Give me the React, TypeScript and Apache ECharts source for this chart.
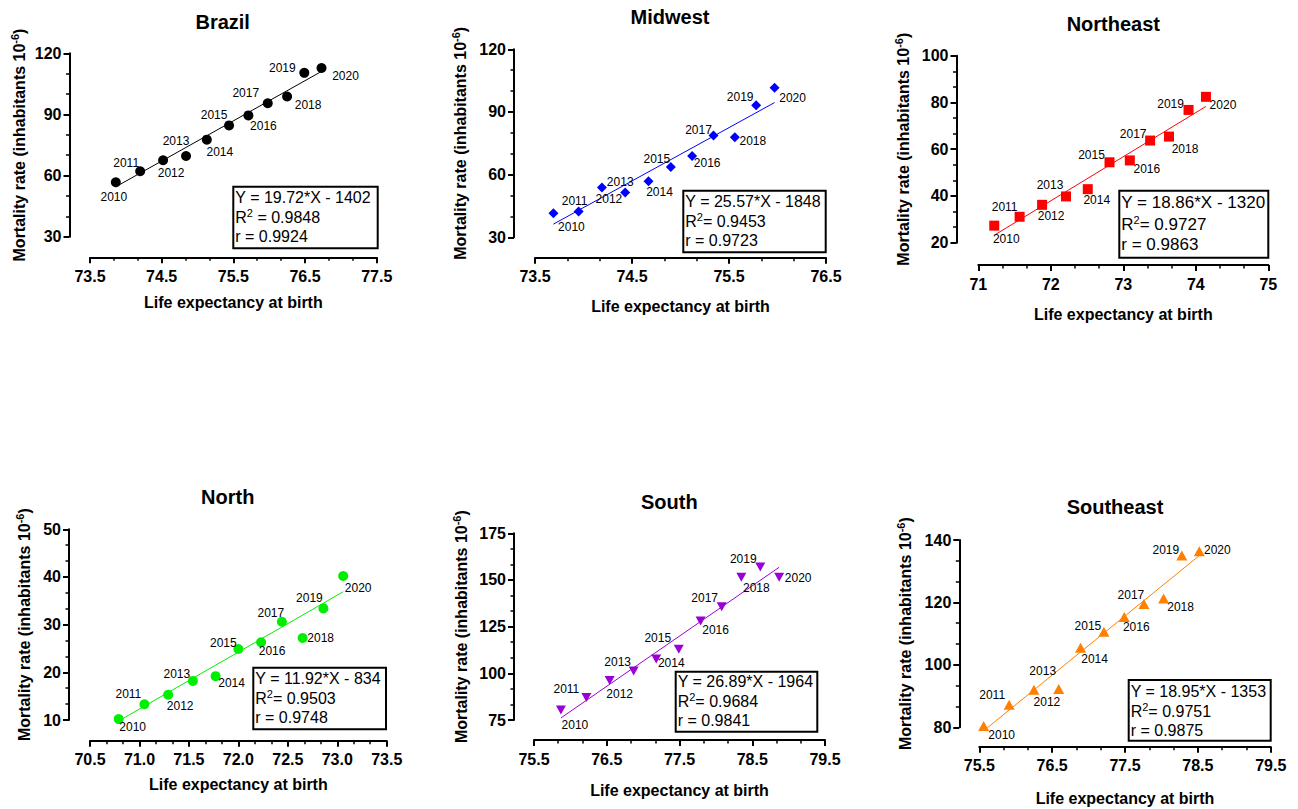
import React, { useEffect, useRef } from "react";
import * as echarts from "echarts";

const FONT = '"Liberation Sans", Arial, Helvetica, sans-serif';

// ---------------- data ----------------
const YEARS = [2010, 2011, 2012, 2013, 2014, 2015, 2016, 2017, 2018, 2019, 2020];

const BRAZIL_X = [73.86, 74.2, 74.52, 74.84, 75.13, 75.44, 75.71, 75.98, 76.25, 76.49, 76.73];
const BRAZIL_Y = [56.7, 62.1, 67.5, 69.6, 77.6, 84.6, 89.5, 95.5, 98.8, 110.4, 112.8];
const BRAZIL_FIT_X = [73.86, 76.73];
const BRAZIL_FIT_Y = [54.5, 111.1];
const BRAZIL_STATS = ["Y = 19.72*X - 1402", "R{sup|2} = 0.9848", "r = 0.9924"];
const BRAZIL_XTICKS = [73.5, 74.5, 75.5, 76.5, 77.5];

const MIDWEST_X = [73.69, 73.95, 74.19, 74.43, 74.67, 74.9, 75.12, 75.34, 75.56, 75.78, 75.97];
const MIDWEST_Y = [41.5, 42.4, 53.8, 51.4, 56.8, 63.7, 68.9, 78.7, 77.9, 93.2, 101.6];
const MIDWEST_FIT_X = [73.69, 75.97];
const MIDWEST_FIT_Y = [36.3, 94.5];
const MIDWEST_STATS = ["Y = 25.57*X - 1848", "R{sup|2}= 0.9453", "r = 0.9723"];
const MIDWEST_XTICKS = [73.5, 74.5, 75.5, 76.5];

const NORTHEAST_X = [71.22, 71.57, 71.88, 72.21, 72.51, 72.81, 73.09, 73.37, 73.63, 73.9, 74.14];
const NORTHEAST_Y = [27.3, 31.1, 36.2, 39.8, 42.9, 54.4, 55.2, 63.7, 65.4, 76.8, 82.4];
const NORTHEAST_FIT_X = [71.22, 74.14];
const NORTHEAST_FIT_Y = [23.2, 78.3];
const NORTHEAST_STATS = ["Y = 18.86*X - 1320", "R{sup|2}= 0.9727", "r = 0.9863"];
const NORTHEAST_XTICKS = [71, 72, 73, 74, 75];

const NORTH_X = [70.79, 71.05, 71.29, 71.54, 71.77, 72.0, 72.23, 72.44, 72.65, 72.86, 73.06];
const NORTH_Y = [10.2, 13.3, 15.3, 18.2, 19.2, 24.9, 26.3, 30.6, 27.2, 33.4, 40.2];
const NORTH_FIT_X = [70.79, 73.06];
const NORTH_FIT_Y = [9.8, 36.9];
const NORTH_STATS = ["Y = 11.92*X - 834", "R{sup|2}= 0.9503", "r = 0.9748"];
const NORTH_XTICKS = [70.5, 71.0, 71.5, 72.0, 72.5, 73.0, 73.5];

const SOUTH_X = [75.87, 76.22, 76.54, 76.87, 77.18, 77.49, 77.79, 78.08, 78.35, 78.61, 78.87];
const SOUTH_Y = [80.3, 87.1, 96.2, 101.3, 107.7, 112.9, 128.0, 135.7, 151.5, 156.9, 151.5];
const SOUTH_FIT_X = [75.87, 78.87];
const SOUTH_FIT_Y = [76.1, 156.8];
const SOUTH_STATS = ["Y = 26.89*X - 1964", "R{sup|2}= 0.9684", "r = 0.9841"];
const SOUTH_XTICKS = [75.5, 76.5, 77.5, 78.5, 79.5];

const SOUTHEAST_X = [75.56, 75.91, 76.25, 76.59, 76.89, 77.21, 77.49, 77.76, 78.03, 78.28, 78.52];
const SOUTHEAST_Y = [80.4, 87.2, 92.0, 92.3, 105.5, 110.6, 115.3, 119.5, 121.3, 135.0, 136.4];
const SOUTHEAST_FIT_X = [75.56, 78.52];
const SOUTHEAST_FIT_Y = [78.9, 135.0];
const SOUTHEAST_STATS = ["Y = 18.95*X - 1353", "R{sup|2}= 0.9751", "r = 0.9875"];
const SOUTHEAST_XTICKS = [75.5, 76.5, 77.5, 78.5, 79.5];

// ---------------- layout / style ----------------
const PANELS = [
  {
    title: "Brazil", xs: BRAZIL_X, ys: BRAZIL_Y, fx: BRAZIL_FIT_X, fy: BRAZIL_FIT_Y, stats: BRAZIL_STATS,
    xTicks: BRAZIL_XTICKS, xDec: 1, yMin: 30, yMax: 120, yInt: 30,
    color: "#000000", symbol: "circle", size: 10, rotate: 0,
    grid: { left: 90, top: 53.3, width: 286.7, height: 183.4 }, yOff: 20.5, xOff: 20.6, yGap: 40, xGap: 37,
    titlePos: [222.7, 21.7], box: [233.3, 186.7, 144.4, 61.6], lineY: [11, 31, 50], fs: 16,
    labelOff: [[-2, 15], [-14, -8], [8, 13], [-10, -15], [13, 12], [-15, -10], [15, 11], [-22, -10], [21, 8], [-22, -5], [24, 8]],
  },
  {
    title: "Midwest", xs: MIDWEST_X, ys: MIDWEST_Y, fx: MIDWEST_FIT_X, fy: MIDWEST_FIT_Y, stats: MIDWEST_STATS,
    xTicks: MIDWEST_XTICKS, xDec: 1, yMin: 30, yMax: 120, yInt: 30,
    color: "#0000ff", symbol: "diamond", size: 10, rotate: 0,
    grid: { left: 535, top: 49.3, width: 291, height: 188 }, yOff: 21, xOff: 20.4, yGap: 44, xGap: 41,
    titlePos: [670, 17.3], box: [683.3, 190.7, 142.4, 61.6], lineY: [11, 31, 50], fs: 16,
    labelOff: [[18, 14], [-4, -10], [7, 11], [-5, -11], [11, 11], [-14, -8], [15, 7], [-15, -6], [18, 4], [-16, -8], [18, 10]],
  },
  {
    title: "Northeast", xs: NORTHEAST_X, ys: NORTHEAST_Y, fx: NORTHEAST_FIT_X, fy: NORTHEAST_FIT_Y, stats: NORTHEAST_STATS,
    xTicks: NORTHEAST_XTICKS, xDec: 0, yMin: 20, yMax: 100, yInt: 20,
    color: "#ff0000", symbol: "rect", size: 10, rotate: 0,
    grid: { left: 978.3, top: 55.7, width: 290, height: 187 }, yOff: 21.8, xOff: 22.3, yGap: 43.5, xGap: 41,
    titlePos: [1113.3, 24], box: [1119.3, 190.7, 149, 67], lineY: [12, 34, 54], fs: 17,
    labelOff: [[12, 13], [-15, -10], [9, 11], [-16, -11], [9, 11], [-18, -7], [17, 9], [-17, -7], [16, 12], [-18, -6], [17, 8]],
  },
  {
    title: "North", xs: NORTH_X, ys: NORTH_Y, fx: NORTH_FIT_X, fy: NORTH_FIT_Y, stats: NORTH_STATS,
    xTicks: NORTH_XTICKS, xDec: 1, yMin: 10, yMax: 50, yInt: 10,
    color: "#00ee00", symbol: "circle", size: 10, rotate: 0,
    grid: { left: 90, top: 529.3, width: 296.7, height: 190.7 }, yOff: 21, xOff: 20.7, yGap: 35, xGap: 36,
    titlePos: [227.7, 496.7], box: [253.3, 667.7, 132.7, 61.6], lineY: [11, 31, 50], fs: 16,
    labelOff: [[14, 8], [-16, -10], [12, 11], [-16, -7], [16, 7], [-15, -6], [11, 9], [-11, -9], [18, 0], [-14, -10], [15, 12]],
  },
  {
    title: "South", xs: SOUTH_X, ys: SOUTH_Y, fx: SOUTH_FIT_X, fy: SOUTH_FIT_Y, stats: SOUTH_STATS,
    xTicks: SOUTH_XTICKS, xDec: 1, yMin: 75, yMax: 175, yInt: 25,
    color: "#9a00d6", symbol: "triangle", size: [10, 9], rotate: 180,
    grid: { left: 534, top: 533.3, width: 291, height: 186.7 }, yOff: 20, xOff: 20, yGap: 43, xGap: 42.5,
    titlePos: [669.3, 501.7], box: [675.7, 671.7, 141.6, 60], lineY: [10, 30, 49], fs: 16,
    labelOff: [[14, 15], [-20, -8], [10, 14], [-16, -9], [15, 4], [-21, -11], [15, 9], [-17, -9], [15, 11], [-17, -8], [19, 1]],
  },
  {
    title: "Southeast", xs: SOUTHEAST_X, ys: SOUTHEAST_Y, fx: SOUTHEAST_FIT_X, fy: SOUTHEAST_FIT_Y, stats: SOUTHEAST_STATS,
    xTicks: SOUTHEAST_XTICKS, xDec: 1, yMin: 80, yMax: 140, yInt: 20,
    color: "#ff8000", symbol: "triangle", size: [11, 10], rotate: 0,
    grid: { left: 979.3, top: 540, width: 291.4, height: 187.3 }, yOff: 20, xOff: 19.4, yGap: 44, xGap: 43.5,
    titlePos: [1115, 507.3], box: [1128.7, 680, 142, 60.7], lineY: [11, 31, 50], fs: 16,
    labelOff: [[18, 9], [-17, -10], [13, 12], [-16, -18], [14, 11], [-16, -6], [12, 10], [-13, -9], [17, 9], [-16, -6], [18, -1]],
  },
];

function thirds(majors: number[]): number[] {
  const out: number[] = [];
  for (let i = 0; i < majors.length - 1; i++) {
    const a = majors[i];
    const b = majors[i + 1];
    out.push(a + (b - a) / 3, a + (2 * (b - a)) / 3);
  }
  return out;
}

function buildOption() {
  const grid: any[] = [];
  const xAxis: any[] = [];
  const yAxis: any[] = [];
  const series: any[] = [];
  const graphic: any[] = [];

  PANELS.forEach((p, i) => {
    grid.push({ ...p.grid, containLabel: false });
    const xMin = p.xTicks[0];
    const xMax = p.xTicks[p.xTicks.length - 1];
    const xMainIndex = xAxis.length;
    xAxis.push({
      gridIndex: i,
      type: "value",
      min: xMin,
      max: xMax,
      position: "bottom",
      offset: p.xOff,
      axisLine: { show: true, onZero: false, lineStyle: { color: "#000", width: 2 } },
      axisTick: { show: true, length: 6, customValues: p.xTicks, lineStyle: { color: "#000", width: 2 } },
      axisLabel: {
        show: true,
        customValues: p.xTicks,
        formatter: (v: number) => Number(v).toFixed(p.xDec),
        color: "#000",
        fontSize: 16,
        fontWeight: "bold",
        fontFamily: FONT,
        margin: 11,
      },
      splitLine: { show: false },
      name: "Life expectancy at birth",
      nameLocation: "middle",
      nameGap: p.xGap,
      nameTextStyle: { color: "#000", fontSize: 16, fontWeight: "bold", fontFamily: FONT },
    });
    xAxis.push({
      gridIndex: i,
      type: "value",
      min: xMin,
      max: xMax,
      position: "bottom",
      offset: p.xOff,
      axisLine: { show: false, onZero: false },
      axisTick: { show: true, length: 3.5, customValues: thirds(p.xTicks), lineStyle: { color: "#000", width: 1.5 } },
      axisLabel: { show: false },
      splitLine: { show: false },
    });
    yAxis.push({
      gridIndex: i,
      type: "value",
      min: p.yMin,
      max: p.yMax,
      interval: p.yInt,
      position: "left",
      offset: p.yOff,
      axisLine: { show: true, onZero: false, lineStyle: { color: "#000", width: 2 } },
      axisTick: { show: true, length: 6, lineStyle: { color: "#000", width: 2 } },
      minorTick: { show: true, splitNumber: 3, length: 3.5, lineStyle: { color: "#000", width: 1.5 } },
      axisLabel: { color: "#000", fontSize: 16, fontWeight: "bold", fontFamily: FONT, margin: 8 },
      splitLine: { show: false },
      minorSplitLine: { show: false },
      name: "Mortality rate (inhabitants 10{sup|-6})",
      nameLocation: "middle",
      nameGap: p.yGap,
      nameRotate: 90,
      nameTextStyle: {
        color: "#000",
        fontSize: 16,
        fontWeight: "bold",
        fontFamily: FONT,
        lineHeight: 20,
        rich: {
          sup: { fontSize: 11, fontWeight: "bold", fontFamily: FONT, color: "#000", verticalAlign: "top", lineHeight: 12 },
        },
      },
    });

    series.push({
      type: "line",
      xAxisIndex: xMainIndex,
      yAxisIndex: i,
      data: p.fx.map((x, k) => [x, p.fy[k]]),
      symbol: "none",
      silent: true,
      lineStyle: { color: p.color, width: 1 },
      z: 2,
    });
    series.push({
      type: "scatter",
      xAxisIndex: xMainIndex,
      yAxisIndex: i,
      symbol: p.symbol,
      symbolSize: p.size,
      symbolRotate: p.rotate,
      itemStyle: { color: p.color, opacity: 1 },
      data: p.xs.map((x, k) => ({
        value: [x, p.ys[k]],
        label: { offset: p.labelOff[k] },
      })),
      label: {
        show: true,
        position: "inside",
        formatter: (d: any) => String(YEARS[d.dataIndex]),
        color: "#000",
        fontSize: 12,
        fontFamily: FONT,
        textBorderWidth: 0,
        align: "center",
        verticalAlign: "middle",
      },
      emphasis: { disabled: true },
      z: 3,
    });

    graphic.push({
      type: "text",
      x: p.titlePos[0],
      y: p.titlePos[1],
      style: {
        text: p.title,
        textAlign: "center",
        textVerticalAlign: "middle",
        fontSize: 20,
        fontWeight: "bold",
        fontFamily: FONT,
        fill: "#000",
      },
    });
    const [bx, by, bw, bh] = p.box;
    graphic.push({
      type: "rect",
      shape: { x: bx, y: by, width: bw, height: bh },
      style: { fill: "rgba(255,255,255,0)", stroke: "#000", lineWidth: 2 },
    });
    p.stats.forEach((s, k) => {
      graphic.push({
        type: "text",
        x: bx + 2,
        y: by + p.lineY[k],
        style: {
          text: s,
          textAlign: "left",
          textVerticalAlign: "middle",
          fontSize: p.fs,
          fontFamily: FONT,
          fill: "#000",
          lineHeight: 20,
          rich: {
            sup: { fontSize: 11, fontFamily: FONT, fill: "#000", verticalAlign: "top", lineHeight: 13 },
          },
        },
      });
    });
  });

  return {
    animation: false,
    backgroundColor: "#ffffff",
    grid,
    xAxis,
    yAxis,
    series,
    graphic,
  };
}

export default function App() {
  const ref = useRef<HTMLDivElement>(null);
  useEffect(() => {
    document.body.style.margin = "0";
    if (!ref.current) return;
    const chart = echarts.init(ref.current, undefined, { renderer: "svg" });
    chart.setOption(buildOption() as any);
    return () => chart.dispose();
  }, []);
  return <div ref={ref} style={{ width: 1298, height: 809, background: "#fff" }} />;
}
